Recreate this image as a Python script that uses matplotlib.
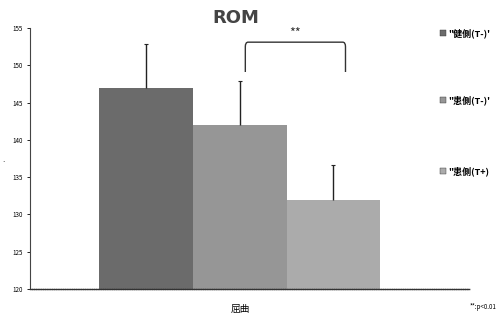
import matplotlib
matplotlib.use("Agg")
import matplotlib.pyplot as plt
from matplotlib.path import Path
from matplotlib.patches import PathPatch

plt.rcParams['font.family'] = ['Noto Sans CJK JP', 'DejaVu Sans']

# datos
labels = ['"健側(T-)\'', '"患側(T-)\'', '"患側(T+)']
means = [147, 142, 132]
upper_err = [5.8, 5.9, 4.6]
colors = ['#6b6b6b', '#969696', '#ababab']
yticks = [120, 125, 130, 135, 140, 145, 150, 155]

fig = plt.figure(figsize=(4.97, 3.2), dpi=100)
ax = fig.add_axes([30/497, 1 - 289/320, 440/497, 261/320])

pos = [0, 1, 2]
for p, m, e, c in zip(pos, means, upper_err, colors):
    ax.bar(p, m - 120, bottom=120, width=1.0, color=c, edgecolor=c, linewidth=0)
    # solo barra de error superior
    ax.vlines(p, m, m + e, color='#222222', lw=1.0)
    ax.hlines(m + e, p - 0.02, p + 0.02, color='#222222', lw=0.8)

ax.set_xlim(-1.24, 3.46)
ax.set_ylim(120, 155)
ax.set_yticks(yticks)
ax.set_yticklabels([str(t) for t in yticks], fontsize=4.5)
ax.set_xticks([])
ax.tick_params(axis='y', length=2, width=0.6, pad=3)
for s in ['top', 'right']:
    ax.spines[s].set_visible(False)
ax.spines['left'].set_color('#444444')
ax.spines['left'].set_linewidth(0.8)
ax.spines['bottom'].set_linestyle((0, (1, 0.6)))
ax.spines['bottom'].set_color('#333333')
ax.spines['bottom'].set_linewidth(1.0)

# corchete de significancia (esquinas redondeadas)
bx0, bx1, by0, by1 = 1.06, 2.13, 149.1, 153.1
r = 0.03
verts = [(bx0, by0), (bx0, by1 - 0.6), (bx0, by1), (bx0 + r, by1),
         (bx1 - r, by1), (bx1, by1), (bx1, by1 - 0.6), (bx1, by0)]
codes = [Path.MOVETO, Path.LINETO, Path.CURVE3, Path.CURVE3,
         Path.LINETO, Path.CURVE3, Path.CURVE3, Path.LINETO]
ax.add_patch(PathPatch(Path(verts, codes), fill=False, ec='#333333', lw=1.0, clip_on=False))
ax.text((bx0 + bx1) / 2, 154.3, '**', ha='center', va='center', fontsize=9, color='#333333')

fig.text(236/497, 1 - 18/320, 'ROM', ha='center', va='center', fontsize=13,
         fontweight='bold', color='#444444', family='DejaVu Sans')
fig.text(240/497, 1 - 309/320, '屈曲', ha='center', va='center', fontsize=7)
fig.text(470/497, 1 - 307/320, '**:p<0.01', ha='left', va='center', fontsize=4.5)
fig.text(4/497, 1 - 160/320, '.', ha='center', va='center', fontsize=6)

# leyenda
leg_y = [33, 100, 171]
for lab, c, y in zip(labels, colors, leg_y):
    fig.patches.append(plt.Rectangle((440/497, 1 - (y + 3)/320), 6/497, 6/320,
                                     transform=fig.transFigure, color=c, ec='#333333', lw=0.3))
    fig.text(448/497, 1 - y/320, lab, ha='left', va='center', fontsize=6.5, fontweight='bold')

fig.savefig('out.png', dpi=100)
